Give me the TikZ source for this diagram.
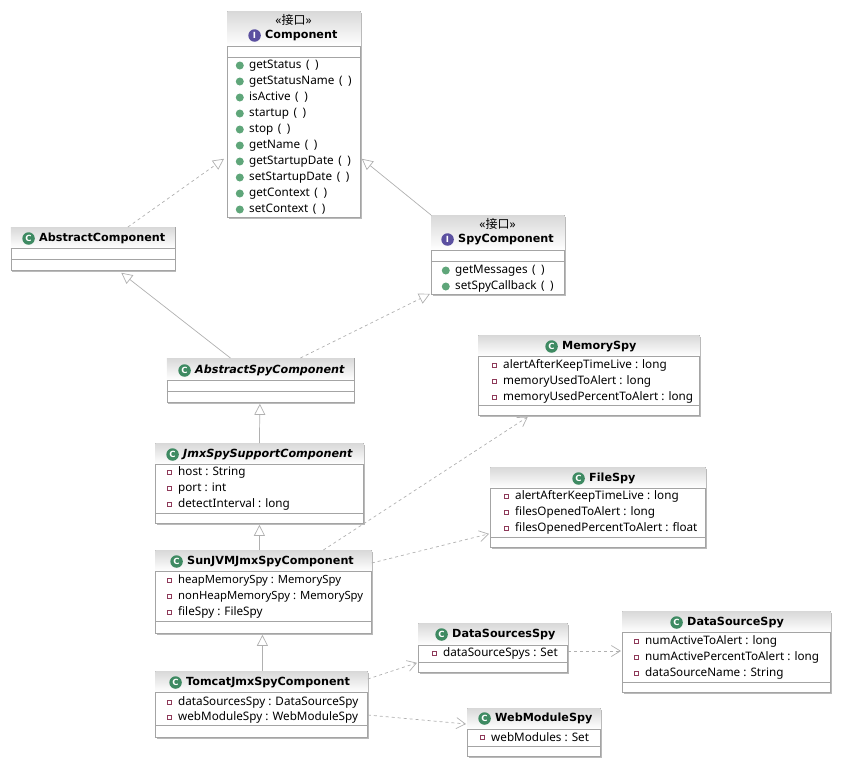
\documentclass[tikz,border=0pt]{standalone}
\usepackage{fontspec}
\setmainfont{Noto Sans}
\newfontfamily\titlefont{DejaVu Sans}
\newfontfamily\cjkfont{Noto Sans CJK SC}
\usepackage{tikz}
\usetikzlibrary{arrows.meta,shadows}
\definecolor{boxline}{HTML}{A4A4A4}
\definecolor{linkline}{HTML}{B0B0B0}
\definecolor{pubgreen}{HTML}{5FA67A}
\definecolor{privred}{HTML}{8E3A5A}
\definecolor{classgreen}{HTML}{3E8A62}
\definecolor{ifacepurple}{HTML}{5B50A0}
\tikzset{
  classbox/.style={draw=boxline,line width=.8pt,fill=white,anchor=north west,inner sep=0pt,
    drop shadow={shadow xshift=1.2pt,shadow yshift=-1.2pt,fill=black!45,opacity=.6}},
  sepline/.style={draw=boxline,line width=.8pt},
  head/.style={top color=black!15,bottom color=white,draw=none},
  badge/.style={circle,inner sep=0pt,minimum size=12.5pt,label distance=4pt,font=\titlefont\bfseries\fontsize{8.5}{9}\selectfont,text=white},
  titlebase/.style={anchor=west,inner sep=0pt,yshift=-1.5pt,font=\titlefont\bfseries\fontsize{11.2}{13}\selectfont},
  title/.style={titlebase,label={[badge,fill=classgreen]left:C}},
  ititle/.style={titlebase,label={[badge,fill=ifacepurple]left:I}},
  atitle/.style={title,font=\titlefont\bfseries\itshape\fontsize{11.2}{13}\selectfont},
  stereo/.style={inner sep=0pt,font=\fontsize{12}{13}\selectfont},
  pub/.style={anchor=west,inner sep=0pt,yshift=-1.5pt,font=\fontsize{11.7}{13}\selectfont,
    label={[circle,fill=pubgreen,inner sep=0pt,minimum size=8pt,label distance=5pt]left:}},
  priv/.style={anchor=west,inner sep=0pt,yshift=-1.5pt,font=\fontsize{11.7}{13}\selectfont,
    label={[draw=privred,line width=.7pt,fill=white,inner sep=0pt,minimum size=4pt,label distance=6pt]left:}},
  privtight/.style={priv,font=\fontsize{11.3}{13}\selectfont},
  realize/.style={draw=linkline,line width=.7pt,dashed,-{Triangle[open,fill=white,length=11pt,width=11pt]}},
  extend/.style={draw=linkline,line width=.7pt,-{Triangle[open,fill=white,length=11pt,width=11pt]}},
  depend/.style={draw=linkline,line width=.7pt,dashed,-{Straight Barb[length=9pt,width=11pt]}},
}
% name, left, top, width, height, header, second line
\newcommand{\classframe}[7]{
  \node[classbox,minimum width=#4pt,minimum height=#5pt] (#1) at (#2,#3) {};
  \path[head] ([shift={(.4pt,-.4pt)}]#1.north west) rectangle ([shift={(-.4pt,-#6pt)}]#1.north east);
  \draw[sepline] ([yshift=-#6pt]#1.north west) -- ([yshift=-#6pt]#1.north east);
  \draw[sepline] ([yshift=-#7pt]#1.north west) -- ([yshift=-#7pt]#1.north east);
}
\newcommand{\noargs}{\hspace{1.5pt} (\hspace{2.5pt} )}
\begin{document}
\begin{tikzpicture}[x=1pt,y=-1pt]
  \useasboundingbox (0,0) rectangle (845,769);
  \classframe{component}{227}{11}{133}{206}{35}{46}
  \classframe{abscomp}{10.5}{227}{164}{43}{21}{32}
  \classframe{spycomp}{431}{215}{133}{79}{35}{46}
  \classframe{absspy}{166.5}{358}{187}{44}{22}{33}
  \classframe{jmxspy}{155}{443}{208}{80}{21}{70}
  \classframe{sunjvm}{155}{550}{216}{83}{21}{71}
  \classframe{tomcat}{155}{671}{212}{66}{21}{54}
  \classframe{memspy}{478}{335}{221}{80}{21}{70}
  \classframe{filespy}{490}{467}{215}{80}{21}{70}
  \classframe{dssspy}{418}{623}{149}{49}{22}{39}
  \classframe{webspy}{467}{708}{133}{48}{21}{38}
  \classframe{dsspy}{622}{611}{208}{81}{21}{71}

  % component
  \node[stereo] (compstereo) at (293.5,20) {«{\cjkfont 接口}»};
  \node[ititle] (comptitle) at (265,34) {Component};
  \node[pub] (m1) at (249,64) {getStatus\noargs};
  \node[pub] (m2) at (249,80) {getStatusName\noargs};
  \node[pub] (m3) at (249,96) {isActive\noargs};
  \node[pub] (m4) at (249,112) {startup\noargs};
  \node[pub] (m5) at (249,128) {stop\noargs};
  \node[pub] (m6) at (249,144) {getName\noargs};
  \node[pub] (m7) at (249,160) {getStartupDate\noargs};
  \node[pub] (m8) at (249,176) {setStartupDate\noargs};
  \node[pub] (m9) at (249,192) {getContext\noargs};
  \node[pub] (m10) at (249,208) {setContext\noargs};
  % spy component
  \node[stereo] (spystereo) at (497.5,224) {«{\cjkfont 接口}»};
  \node[ititle] (spytitle) at (458,238) {SpyComponent};
  \node[pub] (s1) at (455,269) {getMessages\noargs};
  \node[pub] (s2) at (455,285) {setSpyCallback\noargs};
  % abstract classes
  \node[title] (abstitle) at (39,237) {AbstractComponent};
  \node[atitle] (absspytitle) at (195,369) {AbstractSpyComponent};
  \node[atitle] (jmxtitle) at (183,453) {JmxSpySupportComponent};
  \node[priv] (j1) at (178,471) {host : String};
  \node[priv] (j2) at (178,487) {port : int};
  \node[priv] (j3) at (178,503) {detectInterval : long};
  % sun jvm
  \node[title] (suntitle) at (187,560) {SunJVMJmxSpyComponent};
  \node[privtight] (u1) at (178,579) {heapMemorySpy : MemorySpy};
  \node[privtight] (u2) at (178,595) {nonHeapMemorySpy : MemorySpy};
  \node[priv] (u3) at (178,611) {fileSpy : FileSpy};
  % tomcat
  \node[title] (tomtitle) at (186,681) {TomcatJmxSpyComponent};
  \node[priv] (t1) at (178,701) {dataSourcesSpy : DataSourceSpy};
  \node[priv] (t2) at (178,716) {webModuleSpy : WebModuleSpy};
  % memory spy
  \node[title] (memtitle) at (562,345) {MemorySpy};
  \node[priv] (e1) at (503,364) {alertAfterKeepTimeLive : long};
  \node[priv] (e2) at (503,380) {memoryUsedToAlert : long};
  \node[priv] (e3) at (503,396) {memoryUsedPercentToAlert : long};
  % file spy
  \node[title] (filetitle) at (589,477) {FileSpy};
  \node[priv] (f1) at (515,495) {alertAfterKeepTimeLive : long};
  \node[priv] (f2) at (515,511) {filesOpenedToAlert : long};
  \node[priv] (f3) at (515,527) {filesOpenedPercentToAlert : float};
  % data sources
  \node[title] (dsstitle) at (452,633) {DataSourcesSpy};
  \node[priv] (d1) at (443,652) {dataSourceSpys : Set};
  \node[title] (webtitle) at (495,717) {WebModuleSpy};
  \node[priv] (w1) at (491,736) {webModules : Set};
  \node[title] (dstitle) at (687,621) {DataSourceSpy};
  \node[priv] (a1) at (645,640) {numActiveToAlert : long};
  \node[priv] (a2) at (645,656) {numActivePercentToAlert : long};
  \node[priv] (a3) at (645,672) {dataSourceName : String};

  % connectors
  \draw[realize] ([xshift=35pt]abscomp.north) -- ([shift={(-3pt,59pt)}]component.south west);
  \draw[extend] (spycomp.north west) -- ([shift={(1pt,59pt)}]component.south east);
  \draw[extend] ([xshift=-30pt]absspy.north) -- ([shift={(-54pt,-2pt)}]abscomp.south east);
  \draw[realize] ([xshift=40pt]absspy.north) -- ([shift={(-1pt,1pt)}]spycomp.south west);
  \draw[extend] (jmxspy.north) -- ([shift={(-.5pt,-1pt)}]absspy.south);
  \draw[extend] ([xshift=-4pt]sunjvm.north) -- ([shift={(0pt,-1pt)}]jmxspy.south);
  \draw[depend] ([xshift=60pt]sunjvm.north) -- ([shift={(-172pt,-1pt)}]memspy.south east);
  \draw[depend] ([yshift=-13pt]sunjvm.north east) -- ([shift={(-1pt,14pt)}]filespy.south west);
  \draw[extend] ([xshift=1pt]tomcat.north) -- ([xshift=-1pt,yshift=-1pt]sunjvm.south);
  \draw[depend] ([yshift=-8pt]tomcat.north east) -- ([shift={(-1pt,10pt)}]dssspy.south west);
  \draw[depend] ([yshift=-44pt]tomcat.north east) -- ([yshift=-16pt,xshift=-1pt]webspy.north west);
  \draw[depend] ([yshift=-28pt]dssspy.north east) -- ([yshift=-40pt,xshift=-1pt]dsspy.north west);
\end{tikzpicture}
\end{document}
